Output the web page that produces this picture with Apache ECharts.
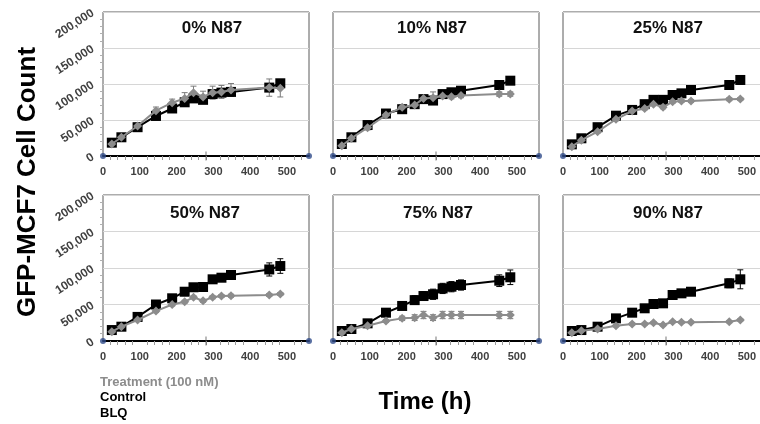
<!DOCTYPE html>
<html><head><meta charset="utf-8">
<script src="https://cdn.jsdelivr.net/npm/echarts@6/dist/echarts.min.js"></script>
<style>html,body{margin:0;padding:0;background:#fff}#c{width:760px;height:424px}</style>
</head><body><div id="c"></div>
<script>
// ---- data ----
const times = [24, 50, 94, 144, 188, 222, 246, 272, 298, 322, 348, 452, 482];
const panelTitles = ['0% N87', '10% N87', '25% N87', '50% N87', '75% N87', '90% N87'];
const xTickLabels = ['0', '100', '200', '300', '400', '500'];
const yTickLabels = ['0', '50,000', '100,000', '150,000', '200,000'];
const legendLabels = ['Treatment (100 nM)', 'Control', 'BLQ'];
const axisTitleY = 'GFP-MCF7 Cell Count';
const axisTitleX = 'Time (h)';

// Control (black squares)
const ctrl0  = [18500, 26000, 40000, 55600, 66000, 74600, 80000, 78000, 86000, 88000, 89000, 95000, 101000];
const ctrl10 = [16700, 26000, 43000, 59000, 65000, 72000, 79000, 77000, 86000, 88500, 90700, 98600, 104600];
const ctrl25 = [16200, 24600, 40000, 56000, 64000, 72000, 78000, 78000, 84700, 87000, 91700, 98600, 105600];
const ctrl50 = [15000, 19600, 33000, 50000, 58500, 67500, 73600, 74000, 84500, 86700, 90400, 98000, 102700];
const ctrl75 = [13700, 16400, 24200, 38800, 48000, 56000, 61600, 64000, 72000, 74400, 76700, 82600, 87300];
const ctrl90 = [13700, 15000, 19600, 31000, 38800, 44800, 50700, 51600, 63000, 65300, 67500, 79000, 84500];
// BLQ (gray diamonds)
const blq0  = [16700, 26000, 41700, 63000, 74000, 80000, 88000, 82000, 88000, 89000, 91700, 95000, 94000];
const blq10 = [14300, 24600, 39300, 57000, 67600, 70800, 80000, 81000, 83300, 82400, 84000, 86000, 86000];
const blq25 = [13000, 22000, 33800, 51000, 62500, 66000, 72000, 67600, 75400, 76400, 76400, 78800, 79000];
const blq50 = [12700, 19600, 28800, 41000, 50000, 53800, 59900, 55000, 59900, 61600, 62000, 63000, 64400];
const blq75 = [11400, 16400, 21000, 27400, 31000, 32000, 35600, 32000, 35600, 35600, 35600, 35600, 35600];
const blq90 = [11400, 14000, 16400, 21000, 23300, 23300, 25000, 22000, 26400, 25600, 25600, 26400, 28800];
// error bars (±)
const ctrlErr0  = [2500, 2000, 3000, 4000, 3000, 4000, 4000, 4000, 3500, 4000, 4000, 5000, 5000];
const ctrlErr10 = [2000, 2000, 3000, 3000, 3000, 3000, 3000, 3000, 3000, 3000, 3000, 4000, 5000];
const ctrlErr25 = [2000, 2000, 3000, 3000, 3000, 3000, 3000, 3000, 3000, 3000, 3000, 5000, 6000];
const ctrlErr50 = [2000, 2000, 3000, 3000, 3000, 3000, 3000, 3000, 3000, 3000, 5000, 9000, 10000];
const ctrlErr75 = [2000, 2000, 2000, 3000, 4000, 6000, 6000, 7000, 7000, 7000, 7000, 8000, 10000];
const ctrlErr90 = [2000, 2000, 2000, 2000, 2000, 2000, 3000, 5000, 3000, 3000, 3000, 6000, 13000];
const blqErr0  = [2000, 2000, 4000, 5000, 5000, 8000, 9000, 8000, 9000, 9000, 9000, 12000, 12000];
const blqErr10 = [2000, 2000, 3000, 4000, 3000, 3000, 3000, 8000, 3000, 3000, 3000, 3000, 3000];
const blqErr25 = [1500, 1500, 2000, 2000, 2000, 2000, 2000, 2000, 2000, 2000, 2000, 2000, 2000];
const blqErr50 = [1500, 1500, 2000, 2000, 2000, 2000, 2000, 2000, 2000, 2000, 2000, 2000, 2000];
const blqErr75 = [1500, 1500, 2000, 2000, 3000, 4000, 5000, 4000, 5000, 5000, 5000, 5000, 5000];
const blqErr90 = [1500, 1500, 1500, 1500, 1500, 1500, 1500, 1500, 1500, 1500, 1500, 1500, 1500];

const controls = [ctrl0, ctrl10, ctrl25, ctrl50, ctrl75, ctrl90];
const blqs = [blq0, blq10, blq25, blq50, blq75, blq90];
const ctrlErrs = [ctrlErr0, ctrlErr10, ctrlErr25, ctrlErr50, ctrlErr75, ctrlErr90];
const blqErrs = [blqErr0, blqErr10, blqErr25, blqErr50, blqErr75, blqErr90];

// ---- layout / style ----
const X_MAX = 560, Y_MAX = 200000;
const colLeft = [103, 333, 563];
const rowTop = [12, 195];
const rowH = [144, 146];
const PW = 206;
const titlePos = [[212, 28], [432, 28], [668, 28], [205, 213], [438, 213], [668, 213]];
const FONT = '"Liberation Sans", Arial, sans-serif';
const BLACK = '#000000', GRAY = '#8c8c8c', DOT = '#2f4b8a';

const chart = echarts.init(document.getElementById('c'), null, {renderer: 'canvas'});

const grids = [], xAxes = [], yAxes = [], series = [], graphics = [];

function errSeries(gi, vals, errs, color, z) {
  return {
    type: 'custom', xAxisIndex: gi, yAxisIndex: gi, z: z, silent: true,
    data: times.map((t, i) => [t, vals[i] - errs[i], vals[i] + errs[i]]),
    encode: {x: 0, y: [1, 2]},
    renderItem(params, api) {
      const x = api.value(0);
      const lo = api.coord([x, api.value(1)]);
      const hi = api.coord([x, api.value(2)]);
      const w = 3;
      const st = {stroke: color, lineWidth: 1};
      return {type: 'group', children: [
        {type: 'line', shape: {x1: lo[0], y1: lo[1], x2: hi[0], y2: hi[1]}, style: st},
        {type: 'line', shape: {x1: lo[0] - w, y1: lo[1], x2: lo[0] + w, y2: lo[1]}, style: st},
        {type: 'line', shape: {x1: hi[0] - w, y1: hi[1], x2: hi[0] + w, y2: hi[1]}, style: st}
      ]};
    }
  };
}

for (let p = 0; p < 6; p++) {
  const r = Math.floor(p / 3), c = p % 3;
  const leftCol = c === 0;
  grids.push({left: colLeft[c], top: rowTop[r], width: PW, height: rowH[r],
    outerBoundsMode: 'none', containLabel: false,
    show: true, borderColor: '#5a5a5a', borderWidth: 1, backgroundColor: 'transparent'});
  xAxes.push({
    type: 'value', gridIndex: p, min: 0, max: X_MAX, interval: 100,
    axisLine: {show: true, onZero: false, lineStyle: {color: '#000', width: 2}},
    axisTick: {show: false},
    minorTick: {show: true, splitNumber: 5, length: 4, lineStyle: {color: '#9a9a9a'}},
    splitLine: {show: false},
    axisLabel: {show: true, margin: 10, color: '#404040', fontWeight: 'bold', fontSize: 11, fontFamily: FONT,
      showMaxLabel: false,
      formatter: v => xTickLabels[v / 100] !== undefined ? xTickLabels[v / 100] : ''}
  });
  yAxes.push({
    type: 'value', gridIndex: p, min: 0, max: Y_MAX, interval: 50000,
    axisLine: {show: false},
    axisTick: {show: false},
    minorTick: {show: leftCol, splitNumber: 5, length: 3, lineStyle: {color: '#b0b0b0'}},
    splitLine: {show: true, lineStyle: {color: '#d6d6d6', width: 1}},
    axisLabel: {show: leftCol, rotate: 33, margin: 10, color: '#404040', fontWeight: 'bold', fontSize: 12, fontFamily: FONT,
      formatter: v => yTickLabels[v / 50000]}
  });
  // error bars
  series.push(errSeries(p, controls[p], ctrlErrs[p], BLACK, 2));
  series.push(errSeries(p, blqs[p], blqErrs[p], '#7a7a7a', 3));
  series.push({
    type: 'line', name: 'Control', xAxisIndex: p, yAxisIndex: p, z: 4,
    data: times.map((t, i) => [t, controls[p][i]]),
    symbol: 'rect', symbolSize: 10, showAllSymbol: true,
    lineStyle: {color: BLACK, width: 2}, itemStyle: {color: BLACK},
    animation: false
  });
  series.push({
    type: 'line', name: 'BLQ', xAxisIndex: p, yAxisIndex: p, z: 5,
    data: times.map((t, i) => [t, blqs[p][i]]),
    symbol: 'diamond', symbolSize: 9, showAllSymbol: true,
    lineStyle: {color: GRAY, width: 2}, itemStyle: {color: GRAY},
    animation: false
  });
  // axis end markers and the mid tick
  series.push({
    type: 'scatter', xAxisIndex: p, yAxisIndex: p, z: 6, silent: true, clip: false,
    data: [[0, 0], [X_MAX, 0]], symbol: 'circle', symbolSize: 6,
    itemStyle: {color: DOT}, animation: false
  });
  series.push({
    type: 'scatter', xAxisIndex: p, yAxisIndex: p, z: 6, silent: true, clip: false,
    data: [[X_MAX / 2, 0]], symbol: 'rect', symbolSize: [1, 9],
    itemStyle: {color: '#555'}, animation: false
  });
  graphics.push({type: 'text', x: titlePos[p][0], y: titlePos[p][1],
    style: {text: panelTitles[p], font: 'bold 17px ' + FONT, fill: '#111', align: 'center', verticalAlign: 'middle'}});
}

graphics.push({type: 'text', x: 28, y: 182, rotation: Math.PI / 2,
  style: {text: axisTitleY, font: 'bold 26px ' + FONT, fill: '#000', align: 'center', verticalAlign: 'middle'}});
graphics.push({type: 'text', x: 425, y: 402,
  style: {text: axisTitleX, font: 'bold 24px ' + FONT, fill: '#000', align: 'center', verticalAlign: 'middle'}});
graphics.push({type: 'text', x: 100, y: 382,
  style: {text: legendLabels[0], font: 'bold 13px ' + FONT, fill: '#8c8c8c', align: 'left', verticalAlign: 'middle'}});
graphics.push({type: 'text', x: 100, y: 397,
  style: {text: legendLabels[1], font: 'bold 13px ' + FONT, fill: '#000', align: 'left', verticalAlign: 'middle'}});
graphics.push({type: 'text', x: 100, y: 413,
  style: {text: legendLabels[2], font: 'bold 13px ' + FONT, fill: '#000', align: 'left', verticalAlign: 'middle'}});

chart.setOption({
  backgroundColor: '#ffffff',
  animation: false,
  grid: grids, xAxis: xAxes, yAxis: yAxes, series: series, graphic: graphics
});
</script>
</body></html>
